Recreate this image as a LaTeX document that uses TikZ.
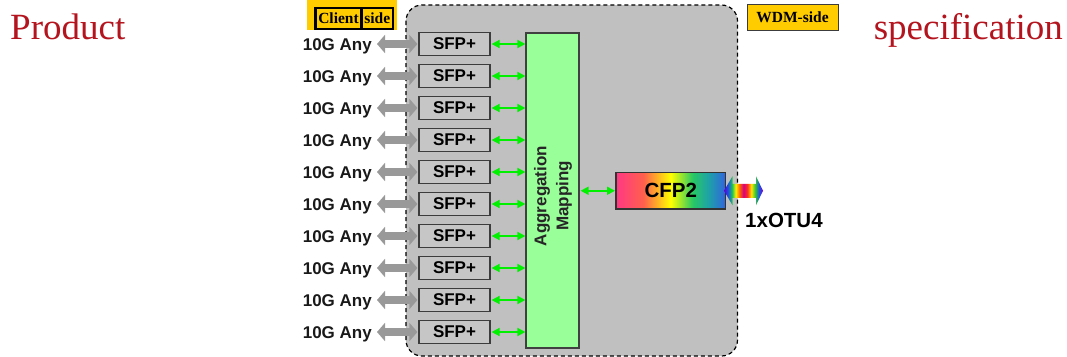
\documentclass[tikz,border=0pt]{standalone}
\usepackage{fontspec}
\setmainfont{Liberation Serif}
\setsansfont{Liberation Sans}
\usetikzlibrary{arrows.meta}
\definecolor{bggray}{RGB}{192,192,192}
\definecolor{sfpgray}{RGB}{198,198,198}
\definecolor{edgegray}{RGB}{60,60,60}
\definecolor{arrgray}{RGB}{153,153,153}
\definecolor{agggreen}{RGB}{153,255,153}
\definecolor{lgreen}{RGB}{0,240,0}
\definecolor{tagyellow}{RGB}{255,204,0}
\definecolor{titlered}{RGB}{180,20,30}
% CFP2 gradient colours
\definecolor{cfA}{RGB}{255,56,132}
\definecolor{cfB}{RGB}{255,96,76}
\definecolor{cfC}{RGB}{255,255,0}
\definecolor{cfD}{RGB}{40,200,100}
\definecolor{cfE}{RGB}{30,160,170}
\definecolor{cfF}{RGB}{50,100,222}
% rainbow colours
\definecolor{rbA}{RGB}{90,0,204}
\definecolor{rbB}{RGB}{30,80,230}
\definecolor{rbC}{RGB}{30,200,80}
\definecolor{rbD}{RGB}{255,240,0}
\definecolor{rbE}{RGB}{255,100,0}
\definecolor{rbF}{RGB}{215,0,130}
\definecolor{rbG}{RGB}{255,50,30}
\definecolor{rbH}{RGB}{255,230,0}
\definecolor{rbI}{RGB}{50,200,50}
\definecolor{rbJ}{RGB}{30,80,230}
\definecolor{rbK}{RGB}{130,0,204}
\pgfdeclarehorizontalshading{cfpshade}{100bp}{%
  color(0bp)=(cfA); color(25bp)=(cfA); color(37.5bp)=(cfB); color(50bp)=(cfC);
  color(60bp)=(cfD); color(67.5bp)=(cfE); color(75bp)=(cfF); color(100bp)=(cfF)}
\pgfdeclarehorizontalshading{rainbowshade}{100bp}{%
  color(0bp)=(rbA); color(25bp)=(rbA); color(30bp)=(rbB); color(35.5bp)=(rbC);
  color(40bp)=(rbD); color(45bp)=(rbE); color(50bp)=(rbF);
  color(55bp)=(rbG); color(60bp)=(rbH); color(65bp)=(rbI);
  color(70bp)=(rbJ); color(75bp)=(rbK); color(100bp)=(rbK)}
\tikzset{
  lab/.style={font=\sffamily\bfseries\fontsize{17}{20}\selectfont, inner sep=0pt, text=black!90},
  sfpbox/.style={draw=edgegray, line width=1.2pt, fill=sfpgray, minimum width=71pt, minimum height=23pt, inner sep=0pt, font=\sffamily\bfseries\fontsize{17}{20}\selectfont},
  greenarr/.style={draw=lgreen, line width=1.6pt, {Triangle[length=8pt,width=8pt]}-{Triangle[length=8pt,width=8pt]}},
  grayarr/.style={draw=arrgray, line width=8.5pt, {Triangle[length=8pt,width=18pt]}-{Triangle[length=8pt,width=18pt]}},
  tagtext/.style={font=\bfseries\fontsize{15.5}{18}\selectfont, inner sep=0pt},
  title/.style={font=\fontsize{37}{44}\selectfont, text=titlered, inner sep=0pt}
}
\begin{document}
\begin{tikzpicture}[x=1pt,y=-1pt]
\useasboundingbox (0,0) rectangle (1067,356);
% titles
\node[title, anchor=base west] (prod) at (10,39.5) {Product};
\node[title, anchor=base east] (spec) at (1063,39.5) {specification};
% main box
\draw[dashed, dash pattern=on 4pt off 3pt, line width=1.2pt, fill=bggray, rounded corners=16pt] (406,5) rectangle (737.5,356);
% client-side tag
\fill[tagyellow] (307,-2) rectangle (397,29.5);
\draw[line width=2.5pt, fill=tagyellow] (315.5,8) rectangle (361.5,29) node[midway, tagtext] (cl) {Client};
\draw[line width=2.5pt, fill=tagyellow] (361.5,8) rectangle (393,29) node[midway, tagtext] (sd) {side};
% WDM tag
\node[draw=edgegray, line width=1pt, fill=tagyellow, minimum width=91pt, minimum height=26pt, tagtext] (wdm) at (792.5,17.5) {WDM-side};
% aggregation
\node[draw=black!75, line width=1.2pt, fill=agggreen, minimum width=53pt, minimum height=315pt, inner sep=0pt] (agg) at (552.5,190.5) {};
\node[rotate=90, align=center, font=\sffamily\bfseries\fontsize{17}{22}\selectfont, text=black!85] (aggt) at (553,196) {Aggregation\\Mapping};
% rows
\foreach \i in {0,...,9}{
  \pgfmathsetmacro{\yy}{44+32*\i}
  \pgfmathsetmacro{\yb}{44+32*\i+6.5}
  \node[sfpbox] (sfp\i) at (454.5,\yy) {SFP+};
  \node[lab, anchor=base east] (any\i) at (372,\yb) {10G Any};
  \draw[grayarr] ([xshift=5pt]any\i.east |- sfp\i.west) -- ([xshift=-1pt]sfp\i.west);
  \draw[greenarr] ([xshift=1pt]sfp\i.east) -- (agg.west |- sfp\i.east);
}
% CFP2
\shade[shading=cfpshade, draw=black!80, line width=1.2pt] (616,172.5) rectangle (725.5,209);
\node[font=\sffamily\bfseries\fontsize{20.5}{24}\selectfont, inner sep=0pt] (cfp) at (670.75,190.75) {CFP2};
\coordinate (cfpw) at (616,190.75);
\coordinate (cfpe) at (725.5,190.75);
\draw[greenarr] ([xshift=1pt]agg.east |- cfpw) -- ([xshift=-1pt]cfpw);
% rainbow arrow
\shade[shading=rainbowshade] ([xshift=-1.5pt]cfpe) -- ++(8.5,-14.5) -- ++(0,7.5) -- ++(23.5,0) -- ++(0,-7.5) -- ++(7,14.5) -- ++(-7,14.5) -- ++(0,-7.5) -- ++(-23.5,0) -- ++(0,7.5) -- cycle;
\node[font=\sffamily\bfseries\fontsize{20.5}{24}\selectfont, inner sep=0pt, anchor=west] (otu) at (745,220) {1xOTU4};
\end{tikzpicture}
\end{document}
